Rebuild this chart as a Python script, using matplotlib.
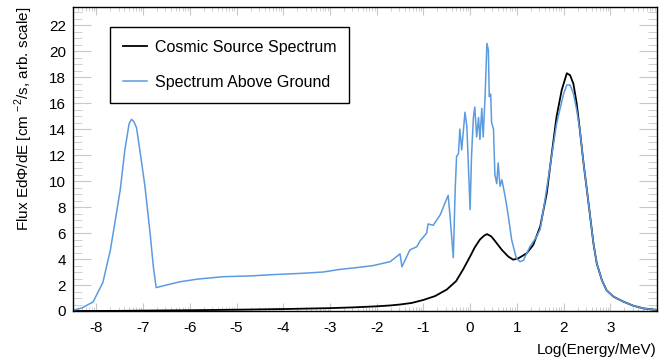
import numpy as np
import matplotlib
matplotlib.use("Agg")
import matplotlib.pyplot as plt
from matplotlib.ticker import MultipleLocator, FixedLocator

# values (x = log10(E/MeV))
source_x = [-8.5, -7.5, -7.0, -6.0, -5.0, -4.0, -3.0, -2.5, -2.0, -1.7, -1.5, -1.25,
            -1.0, -0.75, -0.5, -0.3, -0.15, 0.0, 0.1, 0.21, 0.3, 0.36, 0.45, 0.53,
            0.68, 0.82, 0.92, 1.03, 1.21, 1.35, 1.5, 1.64, 1.74, 1.85, 1.96, 2.07,
            2.14, 2.21, 2.28, 2.35, 2.42, 2.5, 2.57, 2.64, 2.71, 2.82, 2.92, 3.07,
            3.28, 3.49, 3.71, 3.99]
source_y = [0.0, 0.01, 0.03, 0.06, 0.1, 0.15, 0.22, 0.28, 0.36, 0.43, 0.5, 0.62,
            0.85, 1.15, 1.65, 2.3, 3.2, 4.2, 4.9, 5.5, 5.8, 5.92, 5.75, 5.4,
            4.7, 4.18, 3.95, 4.05, 4.44, 5.08, 6.5, 9.05, 11.9, 14.95, 17.0, 18.3,
            18.15, 17.5, 16.0, 13.9, 11.6, 9.3, 7.25, 5.2, 3.67, 2.38, 1.6, 1.1,
            0.72, 0.41, 0.2, 0.08]

ground_x = [-8.5, -8.3, -8.07, -7.86, -7.7, -7.64, -7.49, -7.39, -7.3, -7.25, -7.2, -7.14,
            -7.07, -6.96, -6.85, -6.78, -6.72, -6.5, -6.21, -5.82, -5.29, -4.7, -4.22,
            -3.6, -3.15, -2.79, -2.4, -2.07, -1.71, -1.5, -1.46, -1.29, -1.14, -1.07,
            -0.93, -0.9, -0.79, -0.64, -0.54, -0.47, -0.43, -0.36, -0.32, -0.29, -0.25,
            -0.22, -0.18, -0.11, -0.07, 0.0, 0.03, 0.07, 0.1, 0.14, 0.18, 0.21, 0.25,
            0.28, 0.32, 0.36, 0.39, 0.41, 0.44, 0.46, 0.5, 0.53, 0.57, 0.6, 0.64, 0.68,
            0.75, 0.82, 0.89, 0.99, 1.07, 1.14, 1.28, 1.42, 1.5, 1.57, 1.71, 1.85, 1.92,
            2.0, 2.07, 2.14, 2.21, 2.28, 2.35, 2.42, 2.5, 2.57, 2.64, 2.71, 2.82, 2.92,
            3.07, 3.28, 3.49, 3.71, 3.99]
ground_y = [0.05, 0.25, 0.7, 2.2, 4.7, 6.0, 9.3, 12.4, 14.4, 14.75, 14.6, 14.1,
            12.4, 9.6, 6.0, 3.4, 1.8, 2.0, 2.25, 2.46, 2.64, 2.7, 2.8,
            2.9, 3.0, 3.2, 3.35, 3.5, 3.8, 4.4, 3.4, 4.7, 4.95, 5.4,
            6.0, 6.7, 6.6, 7.4, 8.3, 8.9, 7.3, 4.1, 9.3, 11.9, 12.1,
            14.0, 12.4, 15.3, 14.2, 7.8, 11.9, 14.9, 15.7, 13.4, 14.9, 13.2, 15.6,
            13.4, 16.5, 20.6, 20.1, 16.5, 16.7, 14.5, 14.0, 10.5, 9.8, 11.4, 9.6, 10.1,
            8.8, 7.25, 5.46, 4.05, 3.8, 3.9, 4.95, 5.7, 6.3, 7.8, 11.1, 14.4, 15.5,
            16.7, 17.4, 17.4, 16.75, 15.5, 13.9, 11.6, 9.3, 7.25, 5.2, 3.67, 2.38, 1.6,
            1.1, 0.72, 0.41, 0.2, 0.08]

x_ticks = [-8, -7, -6, -5, -4, -3, -2, -1, 0, 1, 2, 3]

plt.rcParams['font.family'] = ['Liberation Sans', 'DejaVu Sans']
plt.rcParams['mathtext.fontset'] = 'custom'
plt.rcParams['mathtext.rm'] = 'Liberation Sans'
plt.rcParams['axes.unicode_minus'] = False

fig = plt.figure(figsize=(6.7, 3.61), dpi=100)
ax = fig.add_axes([73/670, 1-311/361, (657-73)/670, (311-7)/361])

ax.plot(source_x, source_y, color='black', lw=1.3, label='Cosmic Source Spectrum')
ax.plot(ground_x, ground_y, color='#5b9be0', lw=1.1, label='Spectrum Above Ground')

ax.set_xlim(-8.5, 4.0)
ax.set_ylim(0, 23.4)
ax.set_xticks(x_ticks)
ax.set_xticklabels([str(t) for t in x_ticks])
minor_x = [n + np.log10(k) for n in range(-9, 5) for k in range(2, 10)]
ax.xaxis.set_minor_locator(FixedLocator(minor_x))
ax.yaxis.set_major_locator(MultipleLocator(2))
ax.yaxis.set_minor_locator(MultipleLocator(0.5))

ax.tick_params(axis='both', which='both', direction='in', top=True, right=True,
               color='#c8c8c8', labelsize=11)
ax.tick_params(axis='x', which='major', length=6, pad=7)
ax.tick_params(axis='x', which='minor', length=3)
ax.tick_params(axis='y', which='major', length=13, pad=5)
ax.tick_params(axis='y', which='minor', length=6.5)
for s in ax.spines.values():
    s.set_linewidth(1.0)

ax.set_xlabel('Log(Energy/MeV)', fontsize=11, loc='right', labelpad=6)
ax.set_ylabel('Flux EdΦ/dE [cm $^{-2}$/s, arb. scale]', fontsize=11, loc='top', labelpad=10)

leg = ax.legend(loc='upper left', bbox_to_anchor=(110/670, 1-27/361),
                bbox_transform=fig.transFigure, fontsize=11.5, fancybox=False,
                framealpha=1, edgecolor='black', handlelength=1.5,
                handletextpad=0.5, labelspacing=1.25, borderpad=0.8, borderaxespad=0)
leg.get_frame().set_linewidth(1.0)

fig.savefig('out.png', dpi=100)
